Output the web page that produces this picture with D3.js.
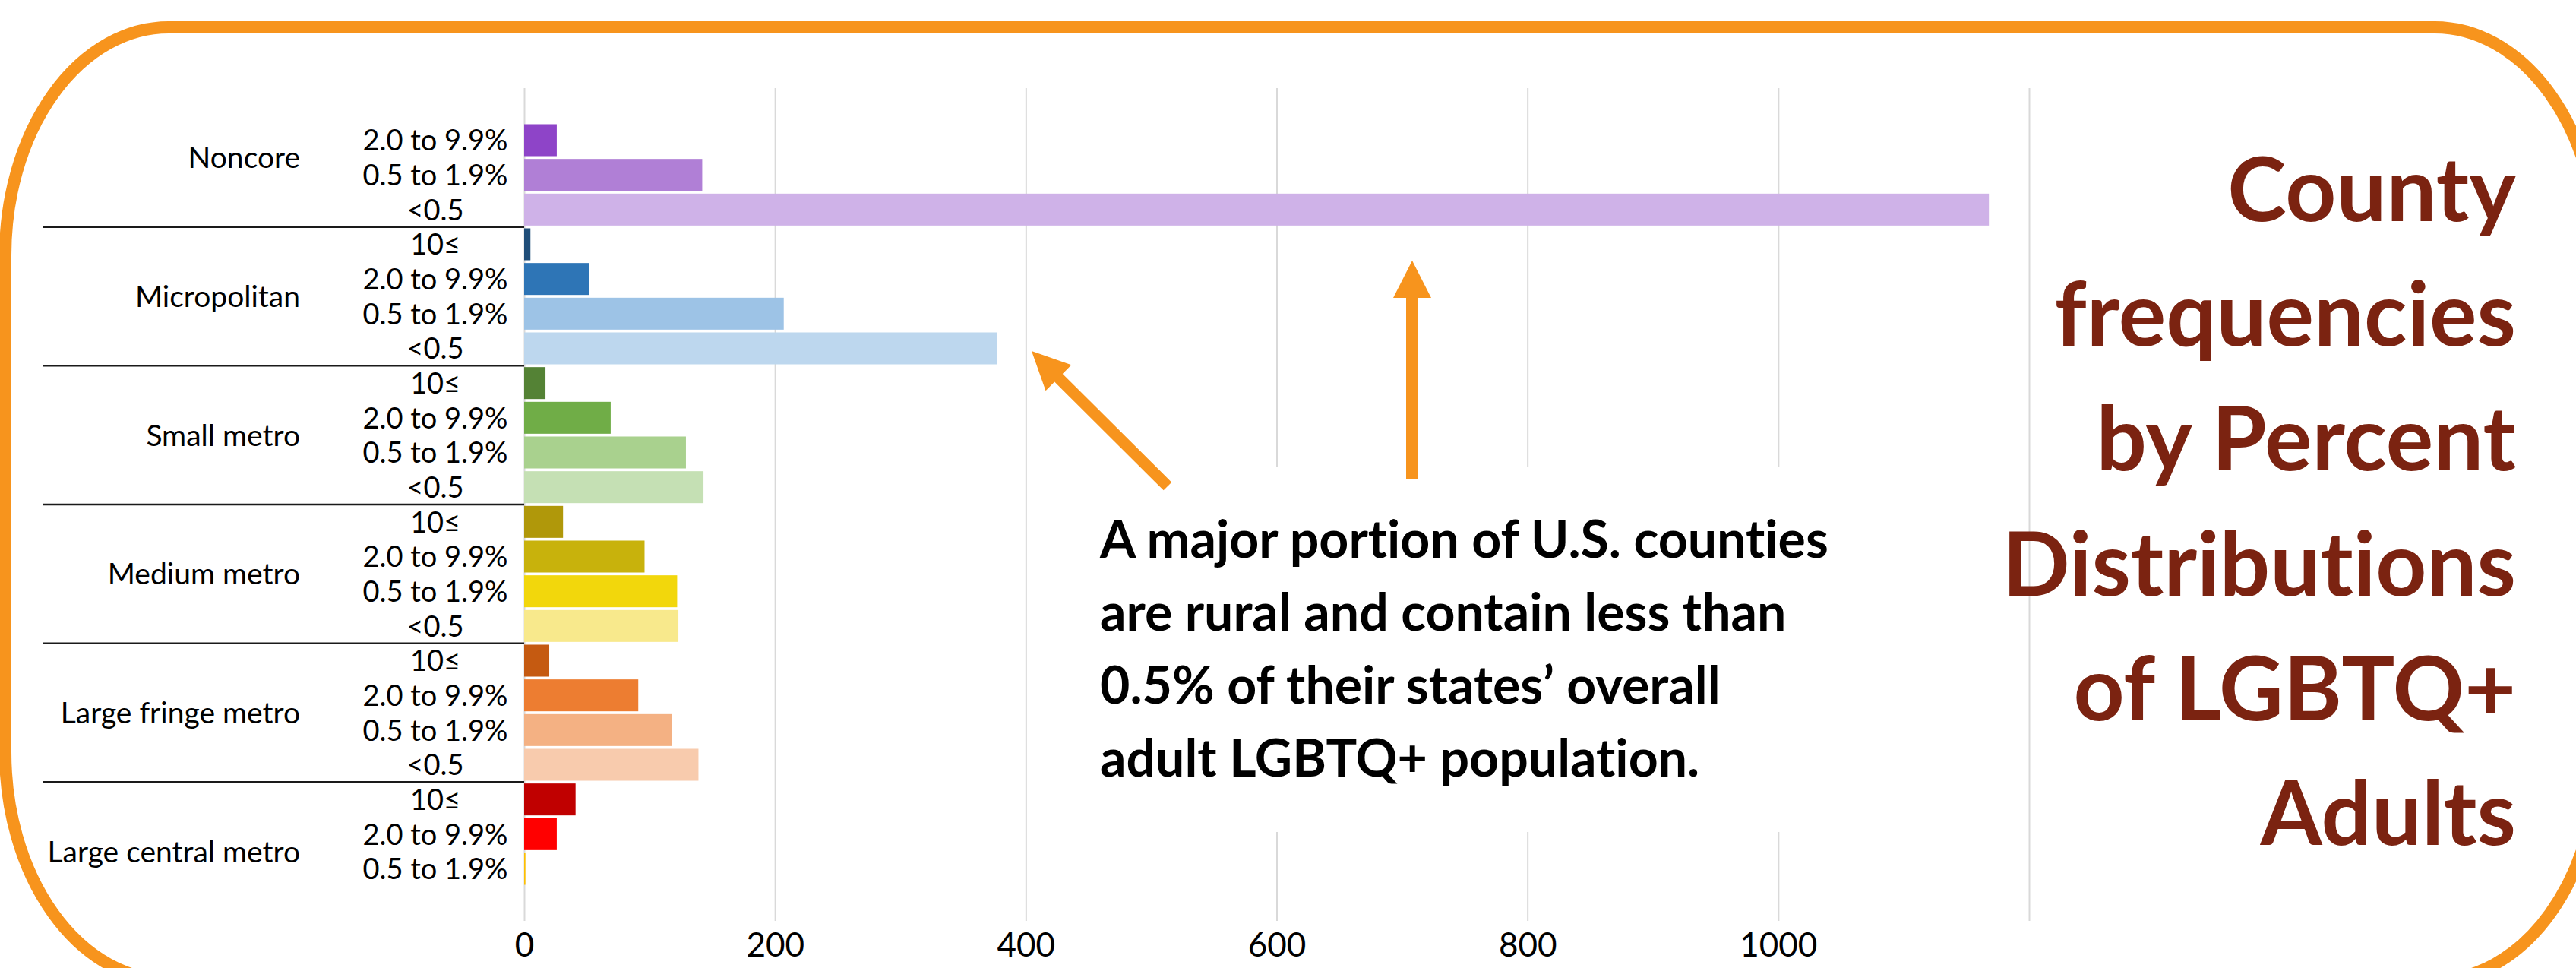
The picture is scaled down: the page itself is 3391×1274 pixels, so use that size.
<!DOCTYPE html>
<html>
<head>
<meta charset="utf-8">
<script src="https://cdn.jsdelivr.net/npm/d3@7"></script>
<style>
  html, body { margin: 0; padding: 0; background: #fff; }
  text { font-family: Lato, 'Open Sans', sans-serif; font-variant-ligatures: none; }
</style>
</head>
<body>
<div class="viz"></div>
<script>
// groups top to bottom, and the percent bands inside each group
const groups = ['Noncore', 'Micropolitan', 'Small metro', 'Medium metro', 'Large fringe metro', 'Large central metro']
const bands = ['10≤', '2.0 to 9.9%', '0.5 to 1.9%', '<0.5']

// county counts per band (null = band not shown)
const noncore = [null, 26, 142, 1168]
const micropolitan = [5, 52, 207, 377]
const smallMetro = [17, 69, 129, 143]
const mediumMetro = [31, 96, 122, 123]
const largeFringe = [20, 91, 118, 139]
const largeCentral = [41, 26, 1, null]

const xTicks = [0, 200, 400, 600, 800, 1000, 1200]
const xTickLabels = ['0', '200', '400', '600', '800', '1000', '']

const titleLines = ['County', 'frequencies', 'by Percent', 'Distributions', 'of LGBTQ+', 'Adults']
const noteLines = ['A major portion of U.S. counties', 'are rural and contain less than', '0.5% of their states\u2019 overall', 'adult LGBTQ+ population.']

// colours per group, same order as bands
const groupColors = [
  ['#8e44c8', '#8e44c8', '#b07fd6', '#cfb2e8'],
  ['#1f4e79', '#2e75b6', '#9dc3e6', '#bdd7ee'],
  ['#548235', '#70ad47', '#a9d18e', '#c5e0b4'],
  ['#b0980a', '#c8b20c', '#f2d70c', '#f8e98c'],
  ['#c55a11', '#ed7d31', '#f4b183', '#f8cbad'],
  ['#c00000', '#ff0000', '#ffc000', '#ffc000']
]

const values = [noncore, micropolitan, smallMetro, mediumMetro, largeFringe, largeCentral]

const W = 3391, H = 1274
const rows = []
groups.forEach((g, gi) => {
  bands.forEach((b, bi) => {
    rows.push({ id: gi + '-' + bi, group: g, band: b, value: values[gi][bi], color: groupColors[gi][bi] })
  })
})

const svg = d3.select('.viz').append('svg')
  .attr('width', W).attr('height', H)

// rounded frame
svg.append('rect')
  .attr('x', 7).attr('y', 36)
  .attr('width', 3413).attr('height', 1254)
  .attr('rx', 215).attr('ry', 300)
  .attr('fill', 'none')
  .attr('stroke', '#f7941d')
  .attr('stroke-width', 16)

const plotTop = 116, plotBottom = 1212
const x = d3.scaleLinear().domain([0, 1200]).range([690, 2671])
const y = d3.scaleBand().domain(rows.map(d => d.id)).range([plotTop, plotBottom]).paddingInner(0.08).paddingOuter(0.04)

// gridlines + tick labels
const axis = svg.append('g')
  .attr('transform', `translate(0, ${plotBottom})`)
  .call(d3.axisBottom(x).tickValues(xTicks).tickSize(-(plotBottom - plotTop)).tickPadding(16)
    .tickFormat((d, i) => xTickLabels[i]))
axis.select('.domain').remove()
axis.selectAll('.tick line').attr('stroke', '#d9d9d9').attr('stroke-width', 2)
axis.selectAll('.tick text')
  .attr('font-size', 44).attr('fill', '#000')
  .attr('font-family', 'Lato, sans-serif')

// bars
svg.append('g').selectAll('rect')
  .data(rows.filter(d => d.value != null)).enter().append('rect')
  .attr('x', x(0))
  .attr('y', d => y(d.id))
  .attr('width', d => x(d.value) - x(0))
  .attr('height', y.bandwidth())
  .attr('fill', d => d.color)

// band labels
svg.append('g').selectAll('text')
  .data(rows.filter(d => d.value != null)).enter().append('text')
  .attr('x', 573)
  .attr('y', d => y(d.id) + y.bandwidth() / 2)
  .attr('dy', '0.36em')
  .attr('text-anchor', 'middle')
  .attr('font-size', 38)
  .text(d => d.band)

// group labels and separators
const step = y.step()
groups.forEach((g, gi) => {
  const y0 = plotTop + gi * bands.length * step
  const y1 = y0 + bands.length * step
  svg.append('text')
    .attr('x', 395).attr('y', (y0 + y1) / 2)
    .attr('dy', '0.36em')
    .attr('text-anchor', 'end')
    .attr('font-size', 39)
    .text(g)
  if (gi > 0) {
    svg.append('line')
      .attr('x1', 57).attr('x2', x(0))
      .attr('y1', y0).attr('y2', y0)
      .attr('stroke', '#1a1a1a').attr('stroke-width', 2.5)
  }
})

// white panel behind the note
svg.append('rect')
  .attr('x', 1400).attr('y', 615).attr('width', 1200).attr('height', 480)
  .attr('fill', '#fff')

// arrows
function arrow(x1, y1, x2, y2, w, hl, hw) {
  const dx = x2 - x1, dy = y2 - y1
  const len = Math.hypot(dx, dy)
  const ux = dx / len, uy = dy / len
  const px = -uy, py = ux
  const bx = x2 - ux * hl, by = y2 - uy * hl
  const pts = [
    [x1 + px * w / 2, y1 + py * w / 2],
    [bx + px * w / 2, by + py * w / 2],
    [bx + px * hw / 2, by + py * hw / 2],
    [x2, y2],
    [bx - px * hw / 2, by - py * hw / 2],
    [bx - px * w / 2, by - py * w / 2],
    [x1 - px * w / 2, y1 - py * w / 2]
  ]
  svg.append('polygon')
    .attr('points', pts.map(p => p.join(',')).join(' '))
    .attr('fill', '#f7941d')
}
arrow(1859, 631, 1859, 343, 16, 49, 50)
arrow(1537, 640, 1358, 462, 15, 50, 48)

// note
svg.append('g').selectAll('text')
  .data(noteLines).enter().append('text')
  .attr('x', 1448)
  .attr('y', (d, i) => 734 + i * 96)
  .attr('font-size', 68)
  .attr('font-weight', 700)
  .attr('fill', '#000')
  .text(d => d)

// title
svg.append('g').selectAll('text')
  .data(titleLines).enter().append('text')
  .attr('x', 3312)
  .attr('y', (d, i) => 291 + i * 164.2)
  .attr('text-anchor', 'end')
  .attr('font-size', 117)
  .attr('font-weight', 700)
  .attr('fill', '#7b2311')
  .text(d => d)
</script>
</body>
</html>
